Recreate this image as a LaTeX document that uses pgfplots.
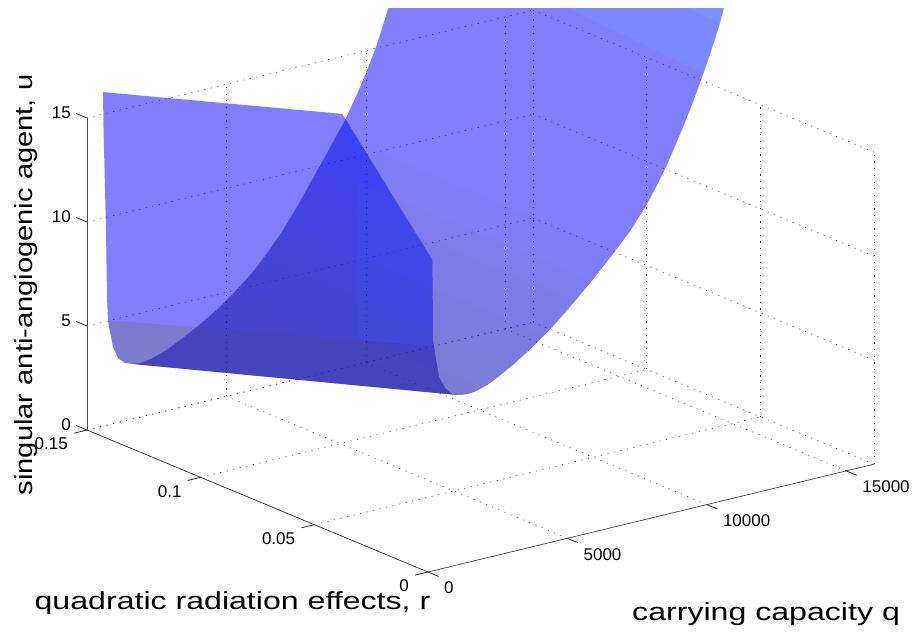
\documentclass[border=0pt]{standalone}
\usepackage{fontspec}
\setmainfont{Liberation Sans}
\usepackage{graphicx}
\usepackage{pgfplots}
\pgfplotsset{compat=1.18}
\definecolor{sblue}{RGB}{0,0,255}
\definecolor{shade}{RGB}{110,110,0}
\definecolor{lite}{RGB}{120,165,255}
\definecolor{over}{RGB}{60,110,130}
\definecolor{strip}{RGB}{50,90,255}
\pgfplotsset{sheet/.style={draw=none,forget plot}}
\tikzset{tk/.style={black!85,line width=0.8pt}}
\begin{document}
\begin{tikzpicture}[x=1pt,y=1pt]
\path[use as bounding box] (0,0) rectangle (915,633);
\clip (0,0) rectangle (915,624);
\begin{axis}[
  anchor=origin, at={(428pt,61pt)},
  x={(0.027875pt,0.00675pt)}, y={(-2273.33pt,946.67pt)}, z={(0pt,20.8pt)},
  xmin=0,xmax=16000,ymin=0,ymax=0.15,zmin=0,zmax=15,
  clip=false,
  xtick={0,5000,10000,15000}, ytick={0,0.05,0.1,0.15}, ztick={0,5,10,15},
  scaled ticks=false,
  /pgf/number format/1000 sep={},
  /pgf/number format/assume math mode=true,
  /pgf/number format/fixed,
  tick label style={font=\fontsize{17}{20}\selectfont,inner sep=0pt},
  xticklabel style={anchor=west,xshift=16pt,yshift=-16pt},
  yticklabel style={anchor=east,xshift=-19pt,yshift=-14pt},
  zticklabel style={anchor=east,xshift=-16pt,yshift=5pt},
  grid=major,
  grid style={black!80,line width=0.5pt,dash pattern=on 1.2pt off 5.5pt},
  major tick length=0pt,
  tick style={draw=none},
  axis line style={draw=none},
  every axis x label/.style={at={(axis cs:12126,0,-6.24)},anchor=base},
  every axis y label/.style={at={(axis cs:-7013,0,0.447)},anchor=base},
  every axis z label/.style={at={(axis cs:-1937,0.15,7.6)},anchor=base,rotate=90},
  xlabel={\fontsize{24.7}{28}\selectfont\scalebox{1.3}[1]{carrying capacity q}},
  ylabel={\fontsize{24.7}{28}\selectfont\scalebox{1.3}[1]{quadratic radiation effects, r}},
  zlabel={\fontsize{24.7}{28}\selectfont\scalebox{1.178}[1]{singular anti-angiogenic agent, u}},
]
% axis lines
\addplot3[black!70,line width=0.7pt,forget plot] coordinates {(0,0,0)(16000,0,0)};
\addplot3[black!80,line width=0.7pt,forget plot] coordinates {(0,0,0)(0,0.15,0)};
\addplot3[black!70,line width=0.7pt,forget plot] coordinates {(0,0.15,0)(0,0.15,15)};
% tick marks
\draw[tk] (axis cs:0,0,0) -- (axis cs:0,-0.00466,0);
\draw[tk] (axis cs:5000,0,0) -- (axis cs:5000,-0.00466,0);
\draw[tk] (axis cs:10000,0,0) -- (axis cs:10000,-0.00466,0);
\draw[tk] (axis cs:15000,0,0) -- (axis cs:15000,-0.00466,0);
\draw[tk] (axis cs:0,0,0) -- (axis cs:-464,0,0);
\draw[tk] (axis cs:0,0.05,0) -- (axis cs:-464,0.05,0);
\draw[tk] (axis cs:0,0.1,0) -- (axis cs:-464,0.1,0);
\draw[tk] (axis cs:0,0.15,0) -- (axis cs:-464,0.15,0);
\draw[tk] (axis cs:0,0.15,0) -- (axis cs:0,0.1548,0);
\draw[tk] (axis cs:0,0.15,5) -- (axis cs:0,0.1548,5);
\draw[tk] (axis cs:0,0.15,10) -- (axis cs:0,0.1548,10);
\draw[tk] (axis cs:0,0.15,15) -- (axis cs:0,0.1548,15);
% wall sheet
\addplot3[sheet,fill=sblue,fill opacity=0.5] coordinates {
 (574,0.15,16.06)(480,0.0437,19.88)(480,0.04196,19.67)(154,0,14.95)(179,0,12.06)(179,0,11.10)(251,0,10.45)(395,0,9.25)(610,0,8.65)(861,0,8.28)(1076,0,8.16)
 (1650,0.15,2.64)(1363,0.15,2.78)(1112,0.15,3.10)(933,0.15,3.69)(789,0.15,4.70)(753,0.15,5.04)(717,0.15,6.16)(682,0.15,9.39)(592,0.15,14.37)};
% wall low band
\addplot3[sheet,fill=shade,fill opacity=0.19] coordinates {
 (753,0.15,5.04)(179,0,10.81)(251,0,10.45)(395,0,9.25)(610,0,8.65)(861,0,8.28)(1076,0,8.16)(1650,0.15,2.64)(1363,0.15,2.78)(1112,0.15,3.10)(933,0.15,3.69)(789,0.15,4.70)};
% parabolic sheet
\addplot3[sheet,fill=sblue,fill opacity=0.5] coordinates {
 (1650,0.15,2.64)(1973,0.15,2.60)(2332,0.15,2.68)(2906,0.15,2.95)(3516,0.15,3.36)(4126,0.15,3.82)(4699,0.15,4.31)(5309,0.15,4.93)(5919,0.15,5.63)(6493,0.15,6.45)(7031,0.15,7.33)(7534,0.15,8.28)(8108,0.15,9.48)(8610,0.15,10.52)(9255,0.15,11.90)(9686,0.15,13.01)(10045,0.15,14.02)(10403,0.15,15.18)(10798,0.15,16.74)(11085,0.15,17.80)
 (10798,0,24.48)(10601,0,23.63)(10403,0,22.71)(10116,0,21.61)(9758,0,20.35)(9399,0,19.17)(9040,0,18.12)(8574,0,16.80)(8215,0,15.93)(7785,0,15.00)(7247,0,14.04)(6529,0,12.99)(5883,0,12.10)(5273,0,11.32)(4664,0,10.57)(4197,0,10.05)(3731,0,9.58)(3121,0,9.03)(2798,0,8.78)(2511,0,8.56)(2224,0,8.36)(1937,0,8.22)(1686,0,8.13)(1435,0,8.09)(1220,0,8.12)(1076,0,8.16)};
% shading bands of the parabolic sheet
\addplot3[sheet,fill=shade,fill opacity=0.03] coordinates {
 (1650,0.15,2.64)(1973,0.15,2.60)(2332,0.15,2.68)(2906,0.15,2.95)(3516,0.15,3.36)(4126,0.15,3.82)(4699,0.15,4.31)(5309,0.15,4.93)(5919,0.15,5.63)(6493,0.15,6.45)(7031,0.15,7.33)(7534,0.15,8.28)(8108,0.15,9.48)(8610,0.15,10.52)(8968,0.15,11.27)
 (6708,0,13.26)(6529,0,12.99)(5883,0,12.10)(5273,0,11.32)(4664,0,10.57)(4197,0,10.05)(3731,0,9.58)(3121,0,9.03)(2798,0,8.78)(2511,0,8.56)(2224,0,8.36)(1937,0,8.22)(1686,0,8.13)(1435,0,8.09)(1220,0,8.12)(1076,0,8.16)};
\addplot3[sheet,fill=shade,fill opacity=0.03] coordinates {
 (1650,0.15,2.64)(1973,0.15,2.60)(2332,0.15,2.68)(2906,0.15,2.95)(3516,0.15,3.36)(4126,0.15,3.82)(4699,0.15,4.31)(5309,0.15,4.93)(5919,0.15,5.63)(6493,0.15,6.45)(7031,0.15,7.33)(7534,0.15,8.28)(8108,0.15,9.48)(8359,0.15,9.98)
 (5883,0,12.10)(5273,0,11.32)(4664,0,10.57)(4197,0,10.05)(3731,0,9.58)(3121,0,9.03)(2798,0,8.78)(2511,0,8.56)(2224,0,8.36)(1937,0,8.22)(1686,0,8.13)(1435,0,8.09)(1220,0,8.12)(1076,0,8.16)};
\addplot3[sheet,fill=shade,fill opacity=0.03] coordinates {
 (1650,0.15,2.64)(1973,0.15,2.60)(2332,0.15,2.68)(2906,0.15,2.95)(3516,0.15,3.36)(4126,0.15,3.82)(4699,0.15,4.31)(5309,0.15,4.93)(5919,0.15,5.63)(6493,0.15,6.45)(7031,0.15,7.33)(7534,0.15,8.28)(7892,0.15,9.07)
 (5273,0,11.32)(4664,0,10.57)(4197,0,10.05)(3731,0,9.58)(3121,0,9.03)(2798,0,8.78)(2511,0,8.56)(2224,0,8.36)(1937,0,8.22)(1686,0,8.13)(1435,0,8.09)(1220,0,8.12)(1076,0,8.16)};
\addplot3[sheet,fill=shade,fill opacity=0.03] coordinates {
 (1650,0.15,2.64)(1973,0.15,2.60)(2332,0.15,2.68)(2906,0.15,2.95)(3516,0.15,3.36)(4126,0.15,3.82)(4699,0.15,4.31)(5309,0.15,4.93)(5919,0.15,5.63)(6493,0.15,6.45)(7103,0.15,7.50)
 (4197,0,10.05)(3731,0,9.58)(3121,0,9.03)(2798,0,8.78)(2511,0,8.56)(2224,0,8.36)(1937,0,8.22)(1686,0,8.13)(1435,0,8.09)(1220,0,8.12)(1076,0,8.16)};
\addplot3[sheet,fill=shade,fill opacity=0.03] coordinates {
 (1650,0.15,2.64)(1973,0.15,2.60)(2332,0.15,2.68)(2906,0.15,2.95)(3516,0.15,3.36)(4126,0.15,3.82)(4699,0.15,4.31)(5309,0.15,4.93)(5919,0.15,5.63)(6386,0.15,6.20)
 (3121,0,9.03)(2798,0,8.78)(2511,0,8.56)(2224,0,8.36)(1937,0,8.22)(1686,0,8.13)(1435,0,8.09)(1220,0,8.12)(1076,0,8.16)};
\addplot3[sheet,fill=shade,fill opacity=0.03] coordinates {
 (1650,0.15,2.64)(1973,0.15,2.60)(2332,0.15,2.68)(2906,0.15,2.95)(3516,0.15,3.36)(4126,0.15,3.82)(4699,0.15,4.31)(5489,0.15,5.09)
 (1937,0,8.22)(1686,0,8.13)(1435,0,8.09)(1220,0,8.12)(1076,0,8.16)};
% overlap tint
\addplot3[sheet,fill=over,fill opacity=0.05] coordinates {
 (3874,0.15,3.65)(4126,0.15,3.82)(4699,0.15,4.31)(5309,0.15,4.93)(5919,0.15,5.63)(6493,0.15,6.45)(7031,0.15,7.33)(7534,0.15,8.28)(8108,0.15,9.48)(8610,0.15,10.52)(9255,0.15,11.90)
 (320,0.00216,14.89)(320,0.00172,10.68)};
% wall right part
\addplot3[draw=none,fill=strip,fill opacity=0.15,forget plot] coordinates {
 (320,0.03515,19.16)(320,0.00216,14.89)(320,0.00172,10.68)(320,0.03515,9.45)};
% lighter top
\addplot3[sheet,fill=lite,fill opacity=0.25] coordinates {
 (6458,0.03,24.3)(9865,0,20.8)(10116,0,21.61)(10403,0,22.71)(10601,0,23.63)(10798,0,24.48)};
\addplot3[sheet,fill=lite,fill opacity=0.25] coordinates {
 (9542,0.015,23.96)(10490,0,22.97)(10601,0,23.63)(10798,0,24.48)};
\end{axis}
\end{tikzpicture}
\end{document}
